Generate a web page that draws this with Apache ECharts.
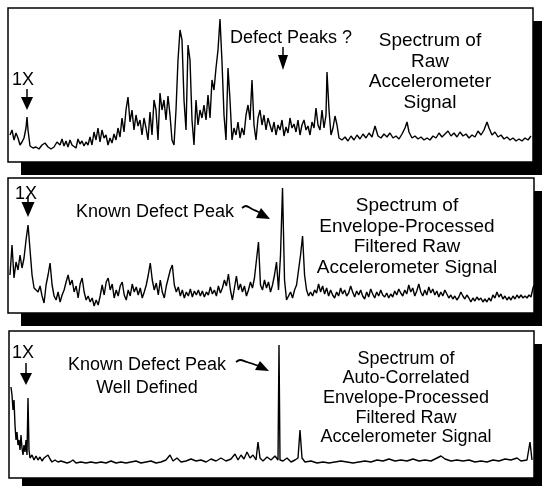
<!DOCTYPE html>
<html>
<head>
<meta charset="utf-8">
<script src="https://cdn.jsdelivr.net/npm/echarts@6/dist/echarts.min.js"></script>
<style>
  html, body { margin: 0; padding: 0; background: #fff; }
  #main { width: 542px; height: 486px; }
</style>
</head>
<body>
<div id="main"></div>
<script>
/*---------------------数据----------------------------*/
// [frequency bin, amplitude]
var rawSpectrum = [[2,27],[4,32],[6,22],[8,29],[10,24],[12,17],[14,20],[16,24],[18,34],[19,45],[20,32],[22,16],[25,14],[28,15],[31,13],[34,17],[37,19],[40,15],[43,13],[46,15],[49,20],[52,17],[54,23],[56,16],[58,21],[60,15],[62,22],[64,17],[66,19],[68,14],[70,23],[72,18],[74,21],[76,16],[78,20],[80,17],[82,25],[84,17],[86,30],[88,22],[90,34],[92,20],[94,32],[96,24],[98,27],[100,17],[102,24],[104,19],[106,28],[108,22],[110,34],[112,25],[114,44],[116,30],[118,52],[120,65],[122,40],[124,52],[126,32],[128,47],[130,36],[132,42],[134,27],[136,44],[138,34],[140,22],[142,50],[144,27],[146,62],[148,52],[150,22],[152,69],[154,52],[156,62],[158,42],[160,66],[162,47],[164,22],[166,17],[168,52],[170,102],[172,132],[174,122],[176,62],[178,32],[180,117],[182,102],[184,42],[186,17],[188,62],[190,37],[192,52],[194,44],[196,57],[198,42],[200,67],[202,44],[204,82],[206,72],[208,94],[210,112],[212,143],[214,100],[216,47],[218,22],[220,94],[222,62],[224,22],[226,34],[228,27],[230,40],[232,24],[234,34],[236,27],[238,47],[240,57],[242,42],[244,82],[246,37],[248,22],[250,44],[252,52],[254,37],[256,47],[258,32],[260,44],[262,37],[264,30],[266,40],[268,27],[270,37],[272,32],[274,42],[276,26],[278,35],[280,29],[282,44],[284,34],[286,38],[288,30],[290,42],[292,27],[294,37],[296,42],[298,32],[300,36],[302,27],[304,40],[306,34],[308,54],[310,37],[312,32],[314,52],[316,34],[318,47],[319,90],[321,52],[323,27],[325,34],[327,46],[329,37],[331,24],[334,22],[337,25],[340,21],[343,26],[346,22],[349,27],[352,23],[355,28],[358,24],[361,29],[364,25],[367,36],[370,26],[373,24],[376,28],[379,25],[382,29],[385,24],[388,26],[391,23],[394,28],[397,34],[399,40],[401,30],[404,24],[407,26],[410,23],[413,25],[416,22],[419,24],[422,22],[425,26],[428,24],[431,29],[434,25],[437,28],[440,31],[443,26],[446,29],[449,25],[452,30],[455,26],[458,28],[461,24],[464,27],[467,25],[470,31],[473,27],[476,32],[479,40],[481,34],[484,27],[487,30],[490,25],[493,27],[496,23],[499,25],[502,22],[505,24],[508,21],[511,23],[514,21],[517,24],[520,22],[523,26]];

var envelopeSpectrum = [[2,38],[4,68],[6,35],[8,51],[10,43],[12,58],[14,45],[16,55],[18,73],[20,88],[22,63],[24,38],[26,25],[28,23],[30,21],[32,27],[34,17],[36,10],[38,28],[40,38],[42,50],[44,28],[46,17],[48,13],[50,21],[52,11],[54,18],[56,23],[58,31],[60,38],[62,28],[64,33],[66,21],[68,27],[70,15],[72,29],[74,35],[76,21],[78,13],[80,17],[82,11],[84,15],[86,7],[88,13],[90,8],[92,17],[94,28],[96,18],[98,31],[100,35],[102,23],[104,29],[106,15],[108,23],[110,17],[112,27],[114,31],[116,18],[118,13],[120,23],[122,17],[124,29],[126,21],[128,26],[130,18],[132,25],[134,15],[136,21],[138,28],[140,38],[142,50],[144,33],[146,23],[148,30],[150,18],[152,33],[154,21],[156,15],[158,27],[160,35],[162,43],[164,48],[166,28],[168,21],[170,26],[172,17],[174,23],[176,15],[178,21],[180,17],[182,24],[184,16],[186,22],[188,18],[190,23],[192,17],[194,22],[196,16],[198,21],[200,18],[202,26],[204,19],[206,23],[208,17],[210,27],[212,20],[214,25],[216,33],[218,27],[220,39],[222,23],[224,13],[226,25],[228,37],[230,23],[232,29],[234,21],[236,27],[238,17],[240,23],[242,31],[244,25],[246,35],[248,53],[250,71],[252,28],[254,23],[256,33],[258,25],[260,31],[262,21],[264,28],[266,38],[268,51],[270,23],[272,58],[274,125],[276,33],[278,13],[280,17],[282,21],[284,15],[286,23],[288,28],[290,43],[292,58],[294,77],[296,38],[298,23],[300,17],[302,21],[304,17],[306,23],[308,20],[310,29],[312,21],[314,27],[316,19],[318,25],[320,17],[322,23],[324,18],[326,15],[328,21],[330,17],[332,25],[334,19],[336,23],[338,17],[340,20],[342,27],[344,21],[346,16],[348,22],[350,18],[352,23],[354,17],[356,14],[358,21],[360,16],[362,24],[364,19],[366,15],[368,21],[370,17],[372,23],[374,18],[376,16],[378,20],[380,15],[382,19],[384,16],[386,22],[388,18],[390,24],[392,20],[394,17],[396,23],[398,19],[400,28],[402,21],[404,25],[406,17],[408,22],[410,29],[412,21],[414,17],[416,23],[418,18],[420,26],[422,20],[424,24],[426,18],[428,22],[430,16],[432,21],[434,17],[436,23],[438,19],[440,15],[442,18],[444,14],[446,17],[448,13],[450,16],[452,21],[454,17],[456,14],[458,18],[460,15],[462,11],[464,15],[466,12],[468,16],[470,13],[472,15],[474,11],[476,14],[478,11],[480,15],[482,12],[484,18],[486,15],[488,21],[490,16],[492,19],[494,14],[496,17],[498,13],[500,16],[502,13],[504,17],[506,14],[508,18],[510,15],[512,18],[514,15],[516,17],[518,15],[520,18],[522,16],[524,25],[525,28]];

var autoCorrSpectrum = [[2,91],[3,83],[4,68],[5,78],[6,53],[7,38],[8,46],[9,33],[10,38],[11,28],[12,43],[13,30],[14,23],[15,33],[16,26],[17,38],[18,23],[19,80],[20,28],[21,20],[23,23],[25,18],[27,22],[29,18],[31,21],[33,17],[35,20],[37,18],[39,23],[41,19],[43,16],[46,18],[49,16],[52,17],[55,16],[58,15],[61,16],[64,18],[67,15],[72,16],[77,15],[82,16],[87,15],[92,16],[97,15],[102,17],[107,15],[112,16],[117,15],[122,16],[127,17],[132,15],[137,16],[142,17],[147,15],[152,16],[157,18],[161,23],[164,17],[168,20],[172,16],[177,17],[182,19],[187,17],[192,18],[197,16],[202,19],[207,17],[212,20],[217,17],[222,19],[226,24],[229,18],[232,23],[235,19],[238,26],[241,20],[244,23],[247,18],[249,36],[251,20],[254,17],[258,21],[262,18],[266,22],[269,18],[270,133],[271,18],[274,17],[278,20],[282,16],[286,18],[289,20],[291,48],[293,20],[296,16],[302,17],[308,15],[314,16],[320,15],[326,16],[332,17],[338,16],[344,15],[350,16],[356,17],[362,16],[368,18],[374,17],[380,19],[386,17],[392,18],[398,17],[404,19],[410,17],[416,18],[422,17],[428,20],[432,22],[436,19],[442,17],[448,18],[454,17],[460,18],[466,16],[472,17],[478,16],[484,18],[490,17],[496,19],[502,18],[508,20],[512,17],[518,18],[521,36],[523,18]];

var ampMax = [154, 135, 147];

var titles = [
    'Spectrum of\nRaw\nAccelerometer\nSignal',
    'Spectrum of\nEnvelope-Processed\nFiltered Raw\nAccelerometer Signal',
    'Spectrum of\nAuto-Correlated\nEnvelope-Processed\nFiltered Raw\nAccelerometer Signal'
];

/*---------------------样式----------------------------*/
var font = "'Liberation Sans', Arial, sans-serif";
var boxes = [[8, 8, 525, 154], [8, 178, 526, 135], [9, 331, 525, 147]];

// white card with hard black drop shadow (no border, so the stroke casts no shadow)
function card(b) {
    return {
        left: b[0], top: b[1], width: b[2], height: b[3],
        show: true, z: 0,
        backgroundColor: '#fff',
        borderWidth: 0,
        shadowColor: '#000',
        shadowBlur: 0,
        shadowOffsetX: 13,
        shadowOffsetY: 13
    };
}
// plotting frame on top of the card
function frame(b) {
    return {
        left: b[0], top: b[1], width: b[2], height: b[3],
        show: true, z: 1,
        backgroundColor: 'transparent',
        borderColor: '#000',
        borderWidth: 1.5
    };
}

function txt(x, y, text, size, lh) {
    return {
        type: 'text', x: x, y: y, z: 100,
        style: {
            text: text, fill: '#000',
            font: size + 'px ' + font,
            textAlign: 'center', textVerticalAlign: 'middle',
            lineHeight: lh || size
        }
    };
}

function down(x, y0, y1, w, tip) {
    return [{
        type: 'line', z: 100,
        shape: { x1: x, y1: y0, x2: x, y2: y1 + 1 },
        style: { stroke: '#000', lineWidth: 1.5 }
    }, {
        type: 'polygon', z: 100,
        shape: { points: [[x - w / 2, y1], [x + w / 2, y1], [x, tip]] },
        style: { fill: '#000' }
    }];
}

function slant(pts, head) {
    return [{
        type: 'polyline', z: 100,
        shape: { points: pts, smooth: 0.3 },
        style: { stroke: '#000', lineWidth: 1.8, fill: null }
    }, {
        type: 'polygon', z: 100,
        shape: { points: head },
        style: { fill: '#000' }
    }];
}

var graphics = [
    txt(23, 80, '1X', 18),
    txt(291, 38, 'Defect Peaks ?', 18),
    txt(430, 72, titles[0], 19, 20.5),
    txt(26, 194, '1X', 18),
    txt(155, 212, 'Known Defect Peak', 18),
    txt(407, 237, titles[1], 19, 20.5),
    txt(23, 353, '1X', 18),
    txt(147, 377, 'Known Defect Peak\nWell Defined', 18, 23),
    txt(406, 398, titles[2], 18, 19.7)
].concat(
    down(27, 89, 97, 12, 110),
    down(283, 47, 55, 10, 70),
    down(28, 196, 202, 13, 217),
    down(26, 363, 373, 12, 385),
    slant([[242, 208], [246, 206], [252, 209], [261, 213]], [[270, 219], [261, 208], [256, 218]]),
    slant([[236, 362], [240, 360], [247, 362], [259, 366]], [[269, 371], [260, 361], [255, 370]])
);

/*---------------------配置----------------------------*/
var data = [rawSpectrum, envelopeSpectrum, autoCorrSpectrum];
var grids = [], xAxes = [], yAxes = [], series = [];
for (var i = 0; i < 3; i++) {
    grids.push(card(boxes[i]));
}
for (var i = 0; i < 3; i++) {
    grids.push(frame(boxes[i]));
}
for (var g = 0; g < 6; g++) {
    var k = g % 3;
    xAxes.push({ type: 'value', gridIndex: g, min: 0, max: 525, show: false });
    yAxes.push({ type: 'value', gridIndex: g, min: 0, max: ampMax[k], show: false });
}
for (var i = 0; i < 3; i++) {
    series.push({
        type: 'line', xAxisIndex: i + 3, yAxisIndex: i + 3,
        data: data[i],
        showSymbol: false,
        sampling: null,
        lineStyle: { color: '#000', width: 1.4 },
        z: 3
    });
}

var myChart = echarts.init(document.getElementById('main'));
myChart.setOption({
    backgroundColor: '#fff',
    animation: false,
    grid: grids,
    xAxis: xAxes,
    yAxis: yAxes,
    series: series,
    graphic: graphics
});
</script>
</body>
</html>
